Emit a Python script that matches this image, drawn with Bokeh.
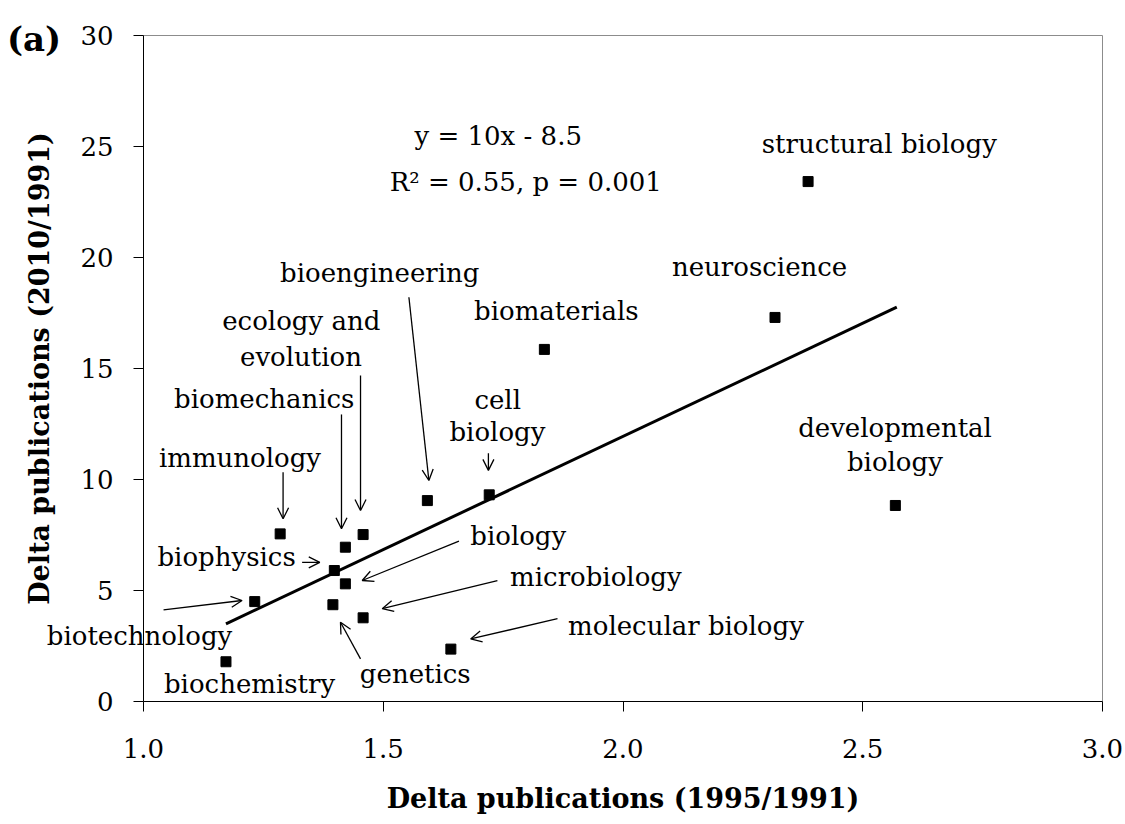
from bokeh.plotting import figure
from bokeh.models import (Range1d, FixedTicker, PrintfTickFormatter, Label,
                          Arrow, OpenHead, ColumnDataSource)
from bokeh.embed import file_html
from bokeh.resources import INLINE

# ---------------- data ----------------
fields = ["immunology", "biotechnology", "biochemistry", "biophysics",
          "biomechanics", "ecology and evolution", "biology", "genetics",
          "microbiology", "molecular biology", "bioengineering", "cell biology",
          "biomaterials", "neuroscience", "structural biology",
          "developmental biology"]
delta_1995_1991 = [1.285, 1.232, 1.172, 1.398, 1.421, 1.458, 1.421, 1.395,
                   1.458, 1.641, 1.592, 1.721, 1.836, 2.317, 2.386, 2.568]
delta_2010_1991 = [7.55, 4.50, 1.79, 5.90, 6.95, 7.52, 5.30, 4.36,
                   3.77, 2.36, 9.05, 9.31, 15.86, 17.30, 23.42, 8.83]

fit_x = [1.172, 2.571]
fit_y = [3.50, 17.76]

x_ticks = [1.0, 1.5, 2.0, 2.5, 3.0]
y_ticks = [0, 5, 10, 15, 20, 25, 30]

# ---------------- annotation layout (data coords) ----------------
label_specs = [
    ("immunology", 1.2013, 10.63),
    ("biomechanics", 1.2518, 13.26),
    ("ecology and", 1.3290, 16.80),
    ("evolution", 1.3285, 15.18),
    ("bioengineering", 1.4927, 18.96),
    ("cell", 1.7387, 13.23),
    ("biology", 1.7381, 11.76),
    ("biomaterials", 1.8609, 17.21),
    ("neuroscience", 2.2849, 19.23),
    ("structural biology", 2.5344, 24.74),
    ("developmental", 2.5673, 11.98),
    ("biology", 2.5670, 10.41),
    ("biology", 1.7815, 7.10),
    ("microbiology", 1.9434, 5.23),
    ("molecular biology", 2.1313, 3.05),
    ("genetics", 1.5668, 0.87),
    ("biochemistry", 1.2212, 0.42),
    ("biotechnology", 0.9917, 2.61),
    ("biophysics", 1.1733, 6.13),
    ("y = 10x - 8.5", 1.7398, 25.12),
    ("R\u00b2 = 0.55, p = 0.001", 1.7972, 23.02),
]
arrow_specs = [
    (1.5535, 18.21, 1.5952, 9.955),   # bioengineering
    (1.4526, 14.68, 1.4526, 8.60),    # ecology and evolution
    (1.4129, 12.93, 1.4129, 7.78),    # biomechanics
    (1.2911, 10.33, 1.2911, 8.23),    # immunology
    (1.3308, 6.27, 1.3676, 6.27),     # biophysics
    (1.0418, 4.13, 1.2055, 4.55),     # biotechnology
    (1.4526, 1.92, 1.4108, 3.57),     # genetics
    (1.6579, 7.22, 1.4561, 5.45),     # biology
    (1.7381, 5.45, 1.4979, 4.18),     # microbiology
    (1.8634, 3.73, 1.6823, 2.82),     # molecular biology
    (1.7193, 11.18, 1.7193, 10.41),   # cell biology
]

FONT = "DejaVu Serif"

# plot box: x 1..3 spans 959 px starting 143 px from the left edge;
# y 0..30 spans 666 px, top 35 px below the canvas top.
# The frame covers the whole canvas so that no text is clipped.
W, H = 1124, 822
PX_X = 959 / (x_ticks[-1] - x_ticks[0])
PX_Y = 666 / (y_ticks[-1] - y_ticks[0])
LEFT_PAD, TOP_PAD = 143, 35
RIGHT_PAD = W - LEFT_PAD - 959
BOTTOM_PAD = H - TOP_PAD - 666

p = figure(frame_width=W, frame_height=H,
           min_border_left=0, min_border_right=0,
           min_border_top=0, min_border_bottom=0,
           x_range=Range1d(x_ticks[0] - LEFT_PAD / PX_X,
                           x_ticks[-1] + RIGHT_PAD / PX_X),
           y_range=Range1d(y_ticks[0] - BOTTOM_PAD / PX_Y,
                           y_ticks[-1] + TOP_PAD / PX_Y),
           output_backend="svg", toolbar_location=None)

p.xgrid.visible = False
p.ygrid.visible = False
p.outline_line_color = None

for ax in (p.xaxis[0], p.yaxis[0]):
    ax.axis_line_color = "black"
    ax.axis_line_width = 1
    ax.major_tick_line_color = "black"
    ax.major_tick_out = 10
    ax.major_tick_in = 0
    ax.minor_tick_line_color = None
    ax.major_label_text_font = FONT
    ax.major_label_text_font_size = "26px"
    ax.major_label_text_color = "black"
    ax.axis_label_text_font = FONT
    ax.axis_label_text_font_style = "bold"
    ax.axis_label_text_font_size = "27px"
    ax.axis_label_text_color = "black"

p.xaxis.ticker = FixedTicker(ticks=x_ticks)
p.yaxis.ticker = FixedTicker(ticks=y_ticks)
p.xaxis.formatter = PrintfTickFormatter(format="%.1f")
p.yaxis.formatter = PrintfTickFormatter(format="%d")
p.xaxis.bounds = (x_ticks[0], x_ticks[-1])
p.yaxis.bounds = (y_ticks[0], y_ticks[-1])
p.yaxis.fixed_location = x_ticks[0]
p.xaxis.fixed_location = y_ticks[0]
p.xaxis.major_label_standoff = 27
p.yaxis.major_label_standoff = 20
p.xaxis.axis_label = "Delta publications (1995/1991)"
p.yaxis.axis_label = "Delta publications (2010/1991)"
p.xaxis.axis_label_standoff = 22
p.yaxis.axis_label_standoff = 22

# grey top / right border of the plot box
p.line([x_ticks[0], x_ticks[-1], x_ticks[-1]],
       [y_ticks[-1], y_ticks[-1], y_ticks[0]],
       line_color="#8c8c8c", line_width=1)

src = ColumnDataSource(dict(x=delta_1995_1991, y=delta_2010_1991, name=fields))
p.line(fit_x, fit_y, line_color="black", line_width=3)
p.scatter("x", "y", source=src, marker="square", size=10,
          fill_color="black", line_color="black")

for (xs, ys, xe, ye) in arrow_specs:
    p.add_layout(Arrow(end=OpenHead(size=11, line_width=1.3, line_color="black"),
                       x_start=xs, y_start=ys, x_end=xe, y_end=ye,
                       line_width=1.3, line_color="black"))

for (t, lx, ly) in label_specs:
    p.add_layout(Label(x=lx, y=ly, y_offset=8, text=t, text_font=FONT,
                       text_font_size="26px", text_align="center",
                       text_baseline="alphabetic", text_color="black"))

p.add_layout(Label(x=0.7716, y=29.50, y_offset=8, text="(a)", text_font=FONT,
                   text_font_style="bold", text_font_size="34px",
                   text_align="center", text_baseline="alphabetic",
                   text_color="black"))

open("out.html", "w").write(file_html(p, INLINE))
